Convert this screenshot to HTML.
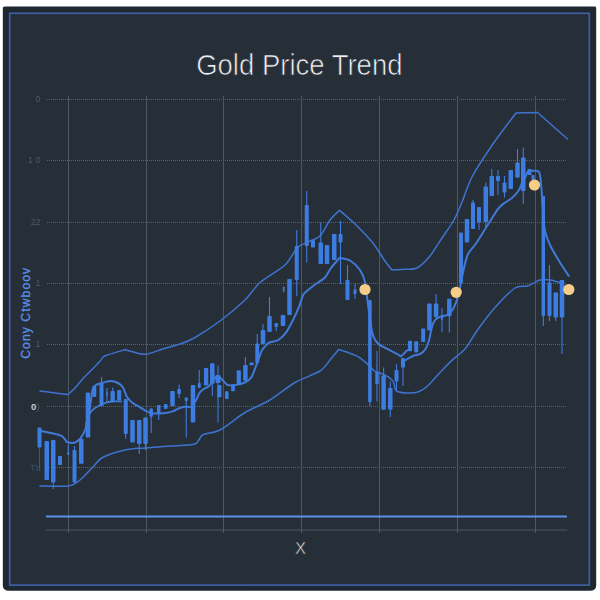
<!DOCTYPE html>
<html lang="en"><head><meta charset="utf-8"><title>Gold Price Trend</title>
<style>html,body{margin:0;padding:0;background:#ffffff;}body{width:600px;height:600px;overflow:hidden;}svg{display:block;}text{font-family:"Liberation Sans","DejaVu Sans",sans-serif;}</style></head><body>
<svg width="600" height="600" viewBox="0 0 600 600">
<defs><filter id="soft" x="-5%" y="-5%" width="110%" height="110%"><feGaussianBlur stdDeviation="0.45"/></filter></defs>
<rect x="0" y="0" width="600" height="600" fill="#ffffff"/>
<path d="M4.5 6.4 H595 Q596.2 6.4 596.2 8 V585 Q596.2 590.8 590 590.8 H9 Q2.8 590.8 2.8 585 V8 Q2.8 6.4 4.5 6.4 Z" fill="#1f2731"/>
<rect x="9.7" y="13.3" width="579.6" height="571.8" fill="#262e38" stroke="#3c60a2" stroke-width="1.7"/>
<text id="title" x="196.2" y="75.3" font-size="30.2" fill="#eef0f2" stroke="#262e38" stroke-width="0.7" textLength="206.3" lengthAdjust="spacingAndGlyphs">Gold Price Trend</text>
<g stroke="#56626e" stroke-width="1" fill="none">
<line x1="47" y1="99.5" x2="566" y2="99.5" stroke="#57636e" stroke-dasharray="1 1" shape-rendering="crispEdges"/>
<line x1="47" y1="160.5" x2="566" y2="160.5" stroke="#57636e" stroke-dasharray="1 1" shape-rendering="crispEdges"/>
<line x1="47" y1="222.5" x2="566" y2="222.5" stroke="#57636e" stroke-dasharray="1 1" shape-rendering="crispEdges"/>
<line x1="47" y1="283.5" x2="566" y2="283.5" stroke="#57636e" stroke-dasharray="1 1" shape-rendering="crispEdges"/>
<line x1="47" y1="344.5" x2="566" y2="344.5" stroke="#57636e" stroke-dasharray="1 1" shape-rendering="crispEdges"/>
<line x1="47" y1="406.5" x2="566" y2="406.5" stroke="#57636e" stroke-dasharray="1 1" shape-rendering="crispEdges"/>
<line x1="47" y1="467.5" x2="566" y2="467.5" stroke="#57636e" stroke-dasharray="1 1" shape-rendering="crispEdges"/>
<line x1="68.5" y1="96" x2="68.5" y2="533" stroke="#4b5762" stroke-width="1" shape-rendering="crispEdges"/>
<line x1="146.5" y1="96" x2="146.5" y2="533" stroke="#4b5762" stroke-width="1" shape-rendering="crispEdges"/>
<line x1="223.5" y1="96" x2="223.5" y2="533" stroke="#4b5762" stroke-width="1" shape-rendering="crispEdges"/>
<line x1="301.5" y1="96" x2="301.5" y2="533" stroke="#4b5762" stroke-width="1" shape-rendering="crispEdges"/>
<line x1="379.5" y1="96" x2="379.5" y2="533" stroke="#4b5762" stroke-width="1" shape-rendering="crispEdges"/>
<line x1="457.5" y1="96" x2="457.5" y2="533" stroke="#4b5762" stroke-width="1" shape-rendering="crispEdges"/>
<line x1="535.5" y1="96" x2="535.5" y2="533" stroke="#4b5762" stroke-width="1" shape-rendering="crispEdges"/>
<line x1="46" y1="530" x2="567.3" y2="530" opacity="0.8"/>
</g>
<line x1="46" y1="516.4" x2="567" y2="516.4" stroke="#5a8fe6" stroke-width="2"/>
<g font-size="8.6" fill="#505b66" text-anchor="end">
<text x="40.3" y="102.0">0</text>
<text x="40.5" y="163.0" textLength="12.4" lengthAdjust="spacing">10</text>
<text x="40.3" y="225.0">22</text>
<text x="40.3" y="286.0">1</text>
<text x="40.3" y="347.0">1</text>
<text x="39.6" y="409.8" font-size="9.6"><tspan fill="#c6cbd0" font-weight="bold">0</tspan>)</text>
<text x="41" y="471.1" font-size="9.4" fill="#47525c">Tt:</text>
</g>
<text transform="translate(29.5,358.8) rotate(-90)" font-size="12.2" fill="#5a8fe6" stroke="#5a8fe6" stroke-width="0.3" textLength="91" lengthAdjust="spacing">Cony Ctwboov</text>
<text x="300.5" y="553.6" text-anchor="middle" font-size="16.6" fill="#e6e8ea" stroke="#262e38" stroke-width="0.45">X</text>
<g filter="url(#soft)">
<g fill="none" stroke="#4079d8" stroke-width="1.7" stroke-linejoin="round" stroke-linecap="round">
<path d="M40.0 391.0C42.0 391.3 51.3 392.5 55.0 393.0C58.7 393.5 66.3 394.3 68.0 394.5C68.9 393.6 72.9 390.3 75.0 388.0C77.1 385.7 80.7 381.1 84.0 377.5C87.3 373.9 97.2 364.2 100.0 361.3C102.8 358.4 101.4 357.5 104.7 356.0C108.0 354.5 122.3 350.5 125.0 349.7C127.7 350.3 140.0 354.4 145.0 354.3C150.0 354.2 157.8 350.4 162.5 349.0C167.2 347.6 175.7 345.5 180.0 344.0C184.3 342.5 189.7 340.6 195.0 337.5C200.3 334.4 213.3 326.0 220.0 321.0C226.7 316.0 239.7 305.1 245.0 300.0C250.3 294.9 254.7 287.2 260.0 282.5C265.3 277.8 280.0 269.7 285.0 265.0C290.0 260.3 294.2 250.7 297.5 247.5C300.8 244.3 307.0 242.5 310.0 241.0C313.0 239.5 317.3 238.8 320.0 236.0C322.7 233.2 327.4 223.4 330.0 220.0C332.6 216.6 338.2 211.6 339.5 210.3C341.6 212.1 350.6 219.7 355.0 224.0C359.4 228.3 368.5 237.6 372.5 242.5C376.5 247.4 382.4 257.3 385.0 261.0C387.6 264.7 391.1 268.8 392.0 270.0C393.7 269.9 401.7 269.6 405.0 269.3C408.3 269.0 413.7 269.8 417.0 268.0C420.3 266.2 426.7 260.0 430.0 256.0C433.3 252.0 438.8 242.8 442.0 238.0C445.2 233.2 451.3 224.8 454.0 220.0C456.7 215.2 459.5 207.9 462.0 202.0C464.5 196.1 468.2 183.9 472.5 176.0C476.8 168.1 488.2 150.9 494.0 142.5C499.8 134.1 513.1 116.9 516.0 113.0C518.9 112.9 534.6 112.6 537.5 112.5C541.5 116.0 563.5 135.5 567.5 139.0" stroke="#3d73cf" stroke-width="1.5"/>
<path d="M40.0 486.0C43.8 486.0 63.4 486.8 68.8 486.0C74.1 485.2 76.8 482.5 80.0 480.0C83.2 477.5 89.5 470.5 92.5 467.5C95.5 464.5 98.2 459.8 102.5 457.5C106.8 455.2 119.3 451.3 125.0 450.0C130.7 448.7 139.0 448.5 145.0 448.0C151.0 447.5 163.3 446.5 170.0 446.0C176.7 445.5 190.7 445.5 195.0 444.0C199.3 442.5 199.2 436.9 202.5 435.0C205.8 433.1 214.3 433.0 220.0 430.0C225.7 427.0 238.3 416.5 245.0 412.5C251.7 408.5 263.3 404.0 270.0 400.0C276.7 396.0 288.3 386.4 295.0 382.5C301.7 378.6 315.3 374.0 320.0 371.0C324.7 368.0 327.5 362.9 330.0 360.0C332.5 357.1 337.6 350.9 338.8 349.5C341.2 350.4 353.6 354.3 357.5 356.3C361.4 358.3 365.8 362.7 368.0 364.6C370.2 366.5 372.3 369.5 374.2 370.8C376.1 372.1 380.4 373.0 382.5 374.0C384.6 375.0 388.3 376.8 389.8 378.0C391.3 379.2 393.2 381.6 394.0 383.3C394.8 385.0 394.5 389.3 396.0 390.6C397.5 391.9 402.5 392.7 405.4 392.9C408.3 393.1 415.1 392.9 418.0 392.0C420.9 391.1 424.3 389.1 427.4 386.3C430.5 383.5 438.0 374.6 441.4 371.0C444.8 367.4 449.9 362.3 453.0 359.4C456.1 356.5 461.7 352.9 465.0 349.0C468.3 345.1 473.5 335.5 477.5 330.0C481.5 324.5 490.0 313.1 495.0 307.5C500.0 301.9 510.7 290.9 515.0 288.0C519.3 285.1 524.2 287.1 527.5 286.0C530.8 284.9 537.0 280.8 540.0 280.0C543.0 279.2 547.3 279.7 550.0 280.0C552.7 280.3 558.7 282.2 560.0 282.5" stroke="#3d73cf" stroke-width="1.5"/>
<path d="M40.5 431.0C42.2 431.3 50.5 432.8 53.3 433.4C56.1 434.0 59.9 435.0 61.5 435.8C63.1 436.6 64.2 438.4 65.0 439.3C65.8 440.2 66.1 441.7 67.3 442.2C68.5 442.7 72.7 443.1 74.3 442.8C75.9 442.5 77.9 440.8 79.0 439.8C80.1 438.8 81.6 436.6 82.5 435.2C83.4 433.8 84.9 430.8 85.4 429.3C85.9 427.8 86.0 426.3 86.5 424.0C87.0 421.7 88.4 415.2 89.0 412.0C89.6 408.8 90.5 403.2 91.0 400.0C91.5 396.8 92.3 390.0 93.0 388.0C93.7 386.0 95.1 385.6 96.0 385.0C96.9 384.4 98.1 384.0 100.0 383.5C101.9 383.0 107.6 381.1 110.0 381.0C112.4 380.9 116.3 382.1 118.0 383.0C119.7 383.9 121.8 385.6 123.0 387.5C124.2 389.4 125.8 395.0 127.0 397.0C128.2 399.0 130.3 401.1 132.0 402.5C133.7 403.9 138.2 406.2 140.0 407.3C141.8 408.4 144.2 410.0 145.8 410.8C147.4 411.6 149.4 412.9 151.7 413.2C154.0 413.5 160.5 413.4 163.3 413.2C166.1 413.0 170.7 412.0 172.7 411.4C174.7 410.8 177.0 409.1 178.5 408.5C180.0 407.9 182.6 407.1 184.3 406.8C186.0 406.5 189.7 407.5 191.3 406.6C192.9 405.7 194.9 402.1 196.0 400.3C197.1 398.5 198.4 394.3 199.5 392.8C200.6 391.3 203.0 389.6 204.2 388.7C205.4 387.8 207.1 388.0 208.8 386.3C210.5 384.6 215.2 376.8 217.0 376.0C218.8 375.2 221.1 378.8 222.5 380.0C223.9 381.2 225.8 384.3 227.5 385.0C229.2 385.7 232.7 385.3 235.0 385.0C237.3 384.7 242.8 383.5 245.0 382.5C247.2 381.5 250.0 379.1 251.3 377.3C252.6 375.5 253.9 371.5 254.8 369.2C255.7 366.9 257.4 362.3 258.3 359.8C259.2 357.3 260.7 352.5 261.8 350.5C262.9 348.5 265.4 345.8 266.5 344.7C267.6 343.6 268.4 342.9 270.0 342.3C271.6 341.7 276.1 341.4 278.3 340.0C280.5 338.6 284.5 334.6 286.5 331.8C288.5 329.0 291.8 322.4 293.5 319.0C295.2 315.6 298.1 309.3 299.3 306.2C300.5 303.1 301.9 297.6 302.8 295.7C303.7 293.8 304.6 293.2 306.3 291.6C308.0 290.0 313.2 285.9 315.7 284.0C318.2 282.1 323.0 279.6 325.0 277.5C327.0 275.4 329.1 270.6 331.0 268.0C332.9 265.4 338.4 259.2 339.5 257.8C340.9 258.2 347.3 258.9 350.0 260.5C352.7 262.1 358.0 267.1 360.0 270.0C362.0 272.9 364.0 277.6 365.0 282.0C366.0 286.4 366.8 296.1 367.8 303.0C368.8 309.9 371.1 328.2 372.5 333.7C373.9 339.2 376.1 341.8 378.4 344.0C380.7 346.2 387.0 348.7 390.0 350.3C393.0 351.9 399.7 355.5 401.2 356.3C401.9 355.6 405.4 352.0 406.5 351.0C407.6 350.0 409.1 349.3 409.5 349.0" stroke-width="2"/>
<path d="M403.5 361.5C404.1 361.1 406.6 359.3 408.0 358.5C409.4 357.7 412.4 356.1 414.0 355.5C415.6 354.9 418.5 354.8 420.0 354.0C421.5 353.2 424.0 351.3 425.2 349.5C426.4 347.7 428.2 343.1 429.0 340.5C429.8 337.9 430.6 332.4 431.2 330.0C431.8 327.6 432.8 324.0 433.5 322.5C434.2 321.0 435.5 319.6 436.5 318.8C437.5 318.0 439.6 317.0 441.0 316.5C442.4 316.0 445.6 315.7 447.0 315.0C448.4 314.3 450.4 312.6 451.5 311.2C452.6 309.8 454.3 306.6 455.2 304.5C456.1 302.4 457.5 298.1 458.2 295.5C458.9 292.9 459.7 288.7 460.5 285.0C461.3 281.3 463.0 272.1 464.0 268.0C465.0 263.9 466.4 257.3 468.0 254.0C469.6 250.7 473.4 247.3 476.0 243.5C478.6 239.7 484.7 229.7 487.6 225.2C490.5 220.7 495.4 212.4 497.5 209.6C499.6 206.8 501.3 205.4 503.2 203.9C505.1 202.4 509.6 200.0 511.7 198.2C513.8 196.4 517.4 192.4 518.7 190.5C520.0 188.6 520.7 185.8 521.6 184.0C522.5 182.2 524.4 179.0 525.3 177.3C526.2 175.6 527.0 172.4 528.0 171.5C529.0 170.6 531.7 170.8 533.0 170.8C534.3 170.8 537.1 170.7 538.0 171.2C538.9 171.7 539.6 172.6 540.0 174.7C540.4 176.8 540.9 182.4 541.3 186.7C541.7 191.0 542.4 202.3 542.7 206.7C543.0 211.1 543.4 216.8 543.7 220.0C544.0 223.2 544.2 227.7 545.0 231.0C545.8 234.3 548.0 240.8 550.0 245.0C552.0 249.2 557.5 258.4 560.0 262.5C562.5 266.6 567.6 274.2 568.8 276.0" stroke-width="2"/>
<path d="M86.0 424.0C86.5 422.5 88.8 415.1 90.0 413.0C91.2 410.9 93.0 409.3 95.0 408.0C97.0 406.7 102.7 403.9 105.0 403.0C107.3 402.1 109.9 401.7 112.0 401.5C114.1 401.3 119.8 401.5 121.0 401.5" stroke-width="1.8"/>
</g>
<g fill="#3e7be0" stroke="#3e7be0">
<line x1="39.50" y1="427.5" x2="39.50" y2="470.0" stroke-width="1.1" opacity="0.55"/>
<rect x="37.50" y="427.5" width="4.0" height="20.0" rx="0.8" stroke="none"/>
<rect x="44.50" y="441.0" width="4.5" height="39.0" rx="0.8" stroke="none"/>
<line x1="53.25" y1="440.0" x2="53.25" y2="489.0" stroke-width="1.1"/>
<rect x="51.00" y="440.0" width="4.5" height="42.5" rx="0.8" stroke="none"/>
<rect x="58.00" y="456.0" width="4.0" height="9.0" rx="0.8" stroke="none"/>
<line x1="68.25" y1="445.0" x2="68.25" y2="455.0" stroke-width="1.1"/>
<rect x="67.25" y="452.0" width="2.0" height="3.0" rx="0.8" stroke="none"/>
<line x1="74.50" y1="446.0" x2="74.50" y2="482.5" stroke-width="1.1"/>
<rect x="72.50" y="450.0" width="4.0" height="32.5" rx="0.8" stroke="none"/>
<rect x="79.00" y="438.8" width="4.5" height="25.0" rx="0.8" stroke="none"/>
<rect x="85.75" y="392.5" width="4.5" height="45.0" rx="0.8" stroke="none"/>
<rect x="92.75" y="386.0" width="3.5" height="11.0" rx="0.8" stroke="none"/>
<line x1="101.50" y1="377.0" x2="101.50" y2="406.0" stroke-width="1.1"/>
<rect x="99.50" y="383.0" width="4.0" height="23.0" rx="0.8" stroke="none"/>
<line x1="107.00" y1="388.0" x2="107.00" y2="403.0" stroke-width="1.1"/>
<rect x="106.20" y="392.0" width="1.6" height="4.0" rx="0.8" stroke="none"/>
<line x1="112.70" y1="387.5" x2="112.70" y2="401.0" stroke-width="1.1"/>
<rect x="110.55" y="391.0" width="4.3" height="10.0" rx="0.8" stroke="none"/>
<rect x="117.20" y="390.0" width="4.0" height="10.5" rx="0.8" stroke="none"/>
<line x1="125.75" y1="399.0" x2="125.75" y2="439.0" stroke-width="1.1"/>
<rect x="123.75" y="399.0" width="4.0" height="35.0" rx="0.8" stroke="none"/>
<rect x="130.25" y="420.0" width="4.5" height="22.5" rx="0.8" stroke="none"/>
<line x1="139.25" y1="420.0" x2="139.25" y2="454.0" stroke-width="1.1"/>
<rect x="137.00" y="420.0" width="4.5" height="24.0" rx="0.8" stroke="none"/>
<line x1="145.50" y1="417.5" x2="145.50" y2="450.0" stroke-width="1.1"/>
<rect x="143.25" y="417.5" width="4.5" height="26.5" rx="0.8" stroke="none"/>
<line x1="151.20" y1="408.5" x2="151.20" y2="433.0" stroke-width="1.1"/>
<rect x="149.45" y="408.5" width="3.5" height="8.2" rx="0.8" stroke="none"/>
<line x1="158.75" y1="405.0" x2="158.75" y2="420.0" stroke-width="1.1"/>
<rect x="157.00" y="405.0" width="3.5" height="9.0" rx="0.8" stroke="none"/>
<rect x="164.00" y="404.0" width="3.5" height="5.0" rx="0.8" stroke="none"/>
<rect x="170.25" y="391.0" width="4.5" height="15.0" rx="0.8" stroke="none"/>
<line x1="179.10" y1="384.6" x2="179.10" y2="398.0" stroke-width="1.1"/>
<rect x="177.30" y="389.0" width="3.6" height="5.0" rx="0.8" stroke="none"/>
<line x1="186.25" y1="397.5" x2="186.25" y2="437.5" stroke-width="1.1"/>
<rect x="184.75" y="397.5" width="3.0" height="3.5" rx="0.8" stroke="none"/>
<rect x="190.75" y="385.0" width="4.5" height="37.5" rx="0.8" stroke="none"/>
<line x1="199.25" y1="370.0" x2="199.25" y2="388.0" stroke-width="1.1"/>
<rect x="197.75" y="383.0" width="3.0" height="5.0" rx="0.8" stroke="none"/>
<rect x="203.95" y="368.0" width="4.3" height="17.5" rx="0.8" stroke="none"/>
<line x1="212.30" y1="363.3" x2="212.30" y2="396.0" stroke-width="1.1"/>
<rect x="210.05" y="363.3" width="4.5" height="20.5" rx="0.8" stroke="none"/>
<line x1="218.00" y1="365.7" x2="218.00" y2="422.5" stroke-width="1.1"/>
<rect x="215.50" y="375.0" width="5.0" height="8.0" rx="0.8" stroke="none"/>
<rect x="217.40" y="385.0" width="4.0" height="12.3" rx="0.8" stroke="none"/>
<rect x="225.00" y="391.3" width="3.6" height="7.7" rx="0.8" stroke="none"/>
<rect x="231.10" y="384.3" width="3.8" height="7.0" rx="0.8" stroke="none"/>
<rect x="236.70" y="370.3" width="4.2" height="14.7" rx="0.8" stroke="none"/>
<line x1="245.40" y1="357.0" x2="245.40" y2="380.8" stroke-width="1.1"/>
<rect x="243.15" y="365.0" width="4.5" height="15.8" rx="0.8" stroke="none"/>
<rect x="249.40" y="362.6" width="4.4" height="2.7" rx="0.8" stroke="none"/>
<line x1="257.20" y1="334.0" x2="257.20" y2="363.0" stroke-width="1.1"/>
<rect x="255.30" y="343.5" width="3.8" height="19.5" rx="0.8" stroke="none"/>
<line x1="263.00" y1="324.0" x2="263.00" y2="344.0" stroke-width="1.1"/>
<rect x="260.75" y="330.0" width="4.5" height="14.0" rx="0.8" stroke="none"/>
<line x1="269.50" y1="297.0" x2="269.50" y2="332.0" stroke-width="1.1"/>
<rect x="267.25" y="316.0" width="4.5" height="16.0" rx="0.8" stroke="none"/>
<line x1="276.25" y1="323.0" x2="276.25" y2="331.0" stroke-width="1.1"/>
<rect x="274.50" y="323.0" width="3.5" height="4.0" rx="0.8" stroke="none"/>
<rect x="280.75" y="315.0" width="4.5" height="11.0" rx="0.8" stroke="none"/>
<rect x="287.25" y="279.0" width="4.5" height="36.0" rx="0.8" stroke="none"/>
<rect x="282.90" y="286.5" width="1.6" height="5.5" rx="0.8" stroke="none"/>
<line x1="296.75" y1="230.0" x2="296.75" y2="296.0" stroke-width="1.1"/>
<rect x="294.75" y="246.0" width="4.0" height="34.0" rx="0.8" stroke="none"/>
<line x1="306.75" y1="191.0" x2="306.75" y2="262.5" stroke-width="1.1"/>
<rect x="304.75" y="205.0" width="4.0" height="41.0" rx="0.8" stroke="none"/>
<rect x="311.00" y="240.0" width="4.0" height="7.5" rx="0.8" stroke="none"/>
<line x1="320.75" y1="222.5" x2="320.75" y2="264.0" stroke-width="1.1"/>
<rect x="318.50" y="242.5" width="4.5" height="21.5" rx="0.8" stroke="none"/>
<rect x="324.75" y="245.0" width="4.5" height="19.0" rx="0.8" stroke="none"/>
<rect x="332.00" y="234.0" width="4.5" height="26.0" rx="0.8" stroke="none"/>
<line x1="340.50" y1="221.0" x2="340.50" y2="284.0" stroke-width="1.1"/>
<rect x="338.50" y="234.0" width="4.0" height="8.5" rx="0.8" stroke="none"/>
<line x1="347.50" y1="265.0" x2="347.50" y2="300.0" stroke-width="1.1"/>
<rect x="345.50" y="280.0" width="4.0" height="20.0" rx="0.8" stroke="none"/>
<line x1="355.00" y1="284.0" x2="355.00" y2="299.0" stroke-width="1.1"/>
<rect x="353.50" y="289.5" width="3.0" height="4.5" rx="0.8" stroke="none"/>
<line x1="369.90" y1="300.0" x2="369.90" y2="406.0" stroke-width="1.1"/>
<rect x="368.10" y="300.0" width="3.6" height="102.0" rx="0.8" stroke="none"/>
<line x1="377.00" y1="351.0" x2="377.00" y2="401.5" stroke-width="1.1"/>
<rect x="375.25" y="372.0" width="3.5" height="12.0" rx="0.8" stroke="none"/>
<line x1="383.60" y1="367.6" x2="383.60" y2="409.7" stroke-width="1.1"/>
<rect x="381.35" y="375.5" width="4.5" height="34.2" rx="0.8" stroke="none"/>
<line x1="390.30" y1="381.6" x2="390.30" y2="417.0" stroke-width="1.1"/>
<rect x="388.05" y="388.0" width="4.5" height="21.5" rx="0.8" stroke="none"/>
<line x1="396.50" y1="364.0" x2="396.50" y2="389.8" stroke-width="1.1"/>
<rect x="394.50" y="370.0" width="4.0" height="11.6" rx="0.8" stroke="none"/>
<line x1="403.00" y1="358.0" x2="403.00" y2="386.0" stroke-width="1.1"/>
<rect x="401.00" y="358.0" width="4.0" height="9.6" rx="0.8" stroke="none"/>
<rect x="408.00" y="340.7" width="4.0" height="10.6" rx="0.8" stroke="none"/>
<rect x="414.20" y="341.2" width="4.0" height="11.2" rx="0.8" stroke="none"/>
<rect x="421.20" y="328.4" width="4.0" height="13.6" rx="0.8" stroke="none"/>
<rect x="427.15" y="303.4" width="4.5" height="27.1" rx="0.8" stroke="none"/>
<line x1="436.10" y1="294.0" x2="436.10" y2="319.5" stroke-width="1.1"/>
<rect x="433.85" y="303.4" width="4.5" height="13.6" rx="0.8" stroke="none"/>
<line x1="442.00" y1="308.0" x2="442.00" y2="332.0" stroke-width="1.1"/>
<rect x="441.00" y="315.0" width="2.0" height="5.0" rx="0.8" stroke="none"/>
<line x1="449.30" y1="298.7" x2="449.30" y2="332.6" stroke-width="1.1"/>
<rect x="447.05" y="298.7" width="4.5" height="17.5" rx="0.8" stroke="none"/>
<rect x="459.00" y="232.5" width="4.0" height="50.5" rx="0.8" stroke="none"/>
<rect x="464.75" y="219.0" width="4.5" height="23.5" rx="0.8" stroke="none"/>
<line x1="473.00" y1="200.0" x2="473.00" y2="229.0" stroke-width="1.1"/>
<rect x="471.00" y="202.5" width="4.0" height="26.5" rx="0.8" stroke="none"/>
<line x1="479.00" y1="207.0" x2="479.00" y2="230.0" stroke-width="1.1"/>
<rect x="477.00" y="207.0" width="4.0" height="15.5" rx="0.8" stroke="none"/>
<line x1="485.80" y1="182.5" x2="485.80" y2="227.5" stroke-width="1.1"/>
<rect x="483.55" y="186.5" width="4.5" height="35.5" rx="0.8" stroke="none"/>
<line x1="491.75" y1="169.0" x2="491.75" y2="196.0" stroke-width="1.1"/>
<rect x="489.50" y="176.0" width="4.5" height="20.0" rx="0.8" stroke="none"/>
<line x1="498.00" y1="170.0" x2="498.00" y2="195.0" stroke-width="1.1"/>
<rect x="496.00" y="176.0" width="4.0" height="5.0" rx="0.8" stroke="none"/>
<line x1="504.50" y1="176.0" x2="504.50" y2="197.5" stroke-width="1.1"/>
<rect x="502.50" y="182.5" width="4.0" height="10.0" rx="0.8" stroke="none"/>
<rect x="508.50" y="170.0" width="4.5" height="19.0" rx="0.8" stroke="none"/>
<line x1="517.50" y1="149.0" x2="517.50" y2="177.5" stroke-width="1.1"/>
<rect x="515.25" y="162.5" width="4.5" height="15.0" rx="0.8" stroke="none"/>
<line x1="523.25" y1="147.5" x2="523.25" y2="204.0" stroke-width="1.1"/>
<rect x="521.00" y="157.5" width="4.5" height="33.5" rx="0.8" stroke="none"/>
<rect x="527.50" y="169.0" width="4.0" height="6.0" rx="0.8" stroke="none"/>
<rect x="531.50" y="175.0" width="3.0" height="5.0" rx="0.8" stroke="none"/>
<line x1="543.30" y1="196.0" x2="543.30" y2="326.0" stroke-width="1.1"/>
<rect x="541.60" y="196.0" width="3.4" height="120.0" rx="0.8" stroke="none"/>
<line x1="549.50" y1="265.0" x2="549.50" y2="321.0" stroke-width="1.1"/>
<rect x="547.50" y="282.5" width="4.0" height="33.5" rx="0.8" stroke="none"/>
<line x1="555.75" y1="292.5" x2="555.75" y2="321.0" stroke-width="1.1"/>
<rect x="553.50" y="292.5" width="4.5" height="25.0" rx="0.8" stroke="none"/>
<line x1="562.00" y1="280.0" x2="562.00" y2="354.0" stroke-width="1.1"/>
<rect x="559.75" y="280.0" width="4.5" height="37.5" rx="0.8" stroke="none"/>
</g>
</g>
<g fill="#f6cd86">
<circle cx="365.0" cy="289.5" r="5.6"/>
<circle cx="456.2" cy="292.3" r="5.6"/>
<circle cx="534.5" cy="185.0" r="5.6"/>
<circle cx="568.8" cy="289.5" r="5.6"/>
</g>
</svg></body></html>
